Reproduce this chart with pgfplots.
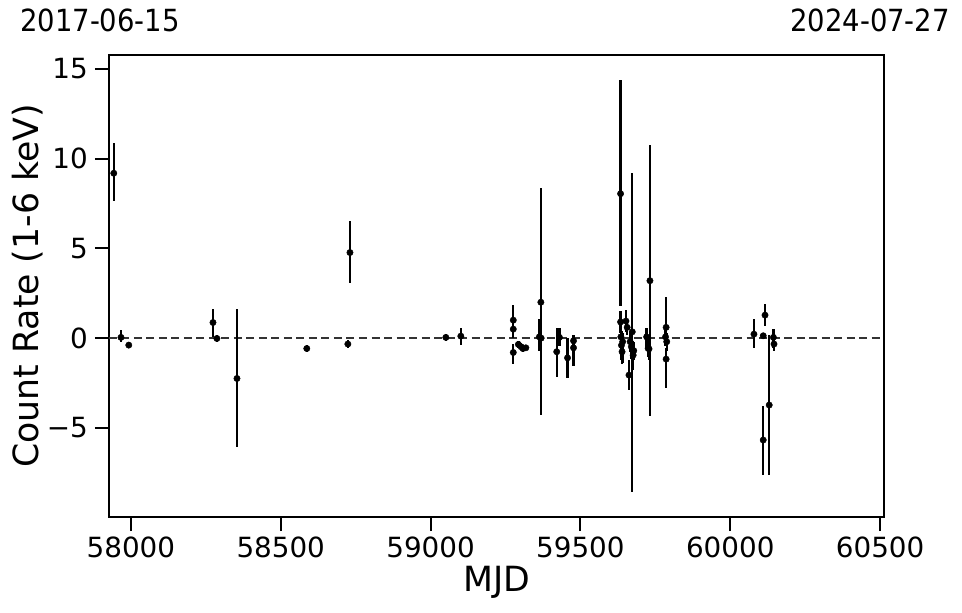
\documentclass[border=0pt]{standalone}
\usepackage{fontspec}
\setmainfont{DejaVu Sans}
\newfontfamily\condfont[FakeStretch=0.9]{DejaVu Sans}
\usepackage{pgfplots}
\pgfplotsset{compat=1.18}
\usepackage{pgfplotstable}

% MJD, rate, err+ , err-
\pgfplotstableread{
x y ep em
57943 9.19 1.67 1.56
57967 0.04 0.41 0.26
57993 -0.39 0.15 0.15
58274 0.87 0.78 0.80
58287 -0.02 0.20 0.20
58354 -2.25 3.85 3.80
58587 -0.58 0.20 0.20
58724 -0.33 0.20 0.20
58731 4.77 1.75 1.72
59051 0.04 0.20 0.20
59101 0.11 0.46 0.50
59276 1.00 0.84 0.50
59276 0.50 0.50 0.50
59276 -0.80 0.50 0.65
59293 -0.35 0.20 0.20
59302 -0.48 0.20 0.20
59308 -0.58 0.20 0.20
59318 -0.54 0.15 0.15
59363 0.07 1.00 0.80
59368 2.00 6.35 6.30
59369 0.00 0.90 0.90
59421 -0.76 1.30 1.40
59430 0.04 0.50 0.50
59457 -1.10 1.12 1.15
59477 -0.15 0.35 0.35
59477 -0.54 0.50 1.00
59634 8.05 6.35 6.25
59634 0.90 0.60 0.60
59635 0.07 0.60 0.60
59637 -0.40 0.80 0.80
59639 -0.76 0.70 0.70
59641 -0.20 0.50 1.20
59652 0.95 0.60 0.60
59656 0.60 0.40 0.40
59662 -2.06 0.84 0.84
59666 -0.20 0.60 0.60
59670 -0.48 0.70 0.70
59673 0.35 8.85 8.90
59676 -0.95 0.80 0.80
59678 -0.70 0.50 0.50
59721 0.07 0.50 0.65
59726 -0.57 0.50 0.50
59729 -0.60 0.60 0.60
59732 3.20 7.55 7.55
59784 0.07 0.50 0.50
59786 0.60 1.67 0.50
59788 -0.20 0.50 0.50
59786 -1.17 0.60 1.63
60079 0.22 0.82 0.79
60110 0.13 0.10 0.10
60116 1.28 0.62 0.62
60110 -5.68 1.90 1.95
60130 -3.73 3.90 3.90
60144 0.04 0.45 0.60
60146 -0.33 0.40 0.40
}\lcdata

\begin{document}
\begin{tikzpicture}
\useasboundingbox (-109pt,-96pt) rectangle (853pt,517pt);
\begin{axis}[
    scale only axis,
    width=775pt, height=462pt,
    xmin=57927, xmax=60513,
    ymin=-9.97, ymax=15.78,
    clip mode=individual,
    scaled x ticks=false,
    axis line style={line width=1.1pt},
    xtick={58000,58500,59000,59500,60000,60500},
    xticklabels={58000,58500,59000,59500,60000,60500},
    ytick={-5,0,5,10,15},
    yticklabels={−5,0,5,10,15},
    xtick pos=bottom, ytick pos=left,
    tick align=outside,
    major tick length=14pt,
    tick style={line width=2pt, black},
    tick label style={font=\fontsize{27.8}{33}\selectfont, inner sep=0pt},
    xticklabel shift=6pt,
    yticklabel shift=7pt,
    xlabel={MJD},
    ylabel={Count Rate (1-6 keV)},
    every axis x label/.style={at={(axis description cs:0.5,-0.1623)}, anchor=base,
        font=\fontsize{34.7}{40}\selectfont},
    every axis y label/.style={at={(axis description cs:-0.1045,0.5)}, rotate=90, anchor=center,
        font=\fontsize{34.7}{40}\selectfont},
]
\addplot[black!80, line width=1.5pt, dash pattern=on 8pt off 4.5pt] coordinates {(57927,0) (60513,0)};
\addplot[only marks, mark=*, mark size=3.2pt, black,
    error bars/.cd, y dir=both, y explicit, error mark=none,
    error bar style={line width=2.3pt}]
    table[x=x, y=y, y error plus=ep, y error minus=em] {\lcdata};
\node[anchor=base west, inner sep=0pt, font=\condfont\fontsize{30.5}{36}\selectfont]
    at (axis description cs:-0.1148,1.0498) {2017-06-15};
\node[anchor=base east, inner sep=0pt, font=\condfont\fontsize{30.5}{36}\selectfont]
    at (axis description cs:1.0852,1.0498) {2024-07-27};
\end{axis}
\end{tikzpicture}
\end{document}
